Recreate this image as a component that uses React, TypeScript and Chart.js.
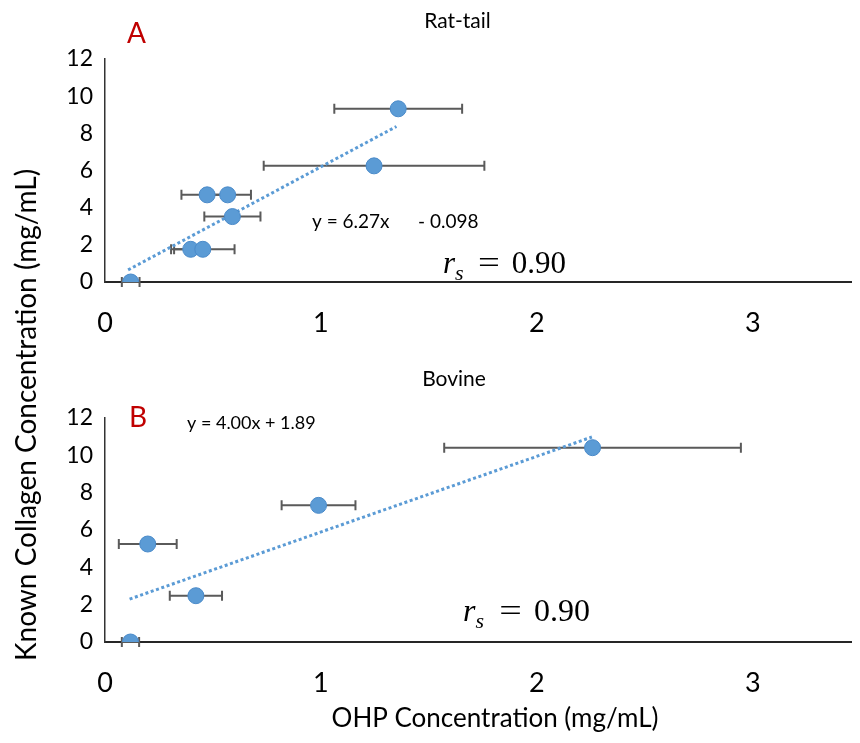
import React, { useEffect, useRef } from 'react';
import { Chart, registerables } from 'chart.js';

Chart.register(...registerables);

// ---- Data ----
const xTickValues = [0, 1, 2, 3];
const yTickValues = [0, 2, 4, 6, 8, 10, 12];

// Rat-tail (panel A)
const ratX = [0.119, 0.397, 0.453, 0.473, 0.568, 0.59, 1.246, 1.358];
const ratY = [0, 1.76, 1.76, 4.69, 4.69, 3.52, 6.25, 9.32];
const ratErr = [0.041, 0.077, 0.147, 0.119, 0.108, 0.13, 0.511, 0.296];
const ratTrendX = [0.107, 1.35];
const ratTrendY = [0.65, 8.37];

// Bovine (panel B)
const bovX = [0.118, 0.198, 0.421, 0.989, 2.258];
const bovY = [0, 5.25, 2.48, 7.32, 10.41];
const bovErr = [0.04, 0.134, 0.121, 0.171, 0.687];
const bovTrendX = [0.114, 2.255];
const bovTrendY = [2.3, 10.98];

const FONT = 'Lato, "Open Sans", sans-serif';
const SERIF = '"Liberation Serif", "DejaVu Serif", serif';
const W = 860;
const H = 743;

const errorBarPlugin = {
  id: 'errorBars',
  beforeDatasetsDraw(chart: any, _args: any, opts: any) {
    const ds = chart.data.datasets[0];
    const xs = chart.scales.x;
    const ys = chart.scales.y;
    const ctx = chart.ctx;
    const cap = 5;
    ctx.save();
    ctx.strokeStyle = '#5a5a5a';
    ctx.lineWidth = 2;
    (ds.data as any[]).forEach((p, i) => {
      const e = opts.err[i];
      const y = ys.getPixelForValue(p.y);
      const x1 = xs.getPixelForValue(p.x - e);
      const x2 = xs.getPixelForValue(p.x + e);
      ctx.beginPath();
      ctx.moveTo(x1, y);
      ctx.lineTo(x2, y);
      ctx.moveTo(x1, y - cap);
      ctx.lineTo(x1, y + cap);
      ctx.moveTo(x2, y - cap);
      ctx.lineTo(x2, y + cap);
      ctx.stroke();
    });
    ctx.restore();
  },
};

function drawRs(ctx: CanvasRenderingContext2D, left: number, base: number, size: number) {
  ctx.save();
  ctx.fillStyle = '#000';
  ctx.textAlign = 'left';
  ctx.textBaseline = 'alphabetic';
  ctx.font = `italic ${size}px ${SERIF}`;
  ctx.fillText('r', left, base);
  const x = left + ctx.measureText('r').width;
  ctx.font = `italic ${Math.round(size * 0.7)}px ${SERIF}`;
  ctx.fillText('s', x, base + size * 0.22);
  ctx.font = `${size}px ${SERIF}`;
  ctx.save();
  ctx.translate(left + size * 1.13, base);
  ctx.scale(1.25, 1);
  ctx.fillText('=', 0, 0);
  ctx.restore();
  ctx.fillText('0.90', left + size * 2.22, base);
  ctx.restore();
}

const textPlugin = {
  id: 'texts',
  afterDraw(chart: any, _args: any, opts: any) {
    const ctx: CanvasRenderingContext2D = chart.ctx;
    const items = opts.items || [];
    for (let i = 0; i < items.length; i++) {
      const t = items[i];
      ctx.save();
      ctx.font = t.font;
      ctx.fillStyle = t.color || '#000';
      ctx.textAlign = t.align || 'left';
      ctx.textBaseline = 'alphabetic';
      if (t.rotate) {
        ctx.translate(t.x, t.y);
        ctx.rotate(t.rotate);
        ctx.fillText(t.text, 0, 0);
      } else {
        ctx.fillText(t.text, t.x, t.y);
      }
      ctx.restore();
    }
    if (opts.rs) drawRs(ctx, opts.rs.x, opts.rs.y, opts.rs.size);
  },
};

function makeConfig(
  xs: number[],
  ys: number[],
  err: number[],
  tx: number[],
  ty: number[],
  areaTop: number,
  areaBottom: number,
  items: any[],
  rs: any
): any {
  return {
    type: 'scatter',
    data: {
      datasets: [
        {
          data: xs.map((x, i) => ({ x, y: ys[i] })),
          backgroundColor: '#5B9BD5',
          borderColor: '#4A8AC9',
          borderWidth: 1,
          pointRadius: 8,
          pointHoverRadius: 8,
          order: 0,
        },
        {
          data: tx.map((x, i) => ({ x, y: ty[i] })),
          showLine: true,
          borderColor: '#5B9BD5',
          borderWidth: 3,
          borderDash: [3, 2.6],
          pointRadius: 0,
          pointHoverRadius: 0,
          fill: false,
          order: 1,
        },
      ],
    },
    options: {
      animation: false,
      responsive: false,
      events: [],
      layout: { padding: { top: areaTop, left: 0, right: 0, bottom: 0 } },
      plugins: {
        legend: { display: false },
        tooltip: { enabled: false },
        errorBars: { err },
        texts: { items, rs },
      },
      scales: {
        x: {
          type: 'linear',
          min: 0,
          max: 3.455,
          grid: { display: false, drawTicks: false },
          border: { display: true, color: '#262626', width: 2 },
          afterBuildTicks: (s: any) => {
            s.ticks = xTickValues.map((v) => ({ value: v }));
          },
          ticks: {
            font: { family: FONT, size: 27 },
            color: '#000',
            padding: 25,
            maxRotation: 0,
            autoSkip: false,
          },
          afterFit: (s: any) => {
            s.height = H - areaBottom;
          },
        },
        y: {
          type: 'linear',
          min: 0,
          max: 12,
          grid: { display: false, drawTicks: false },
          border: { display: true, color: '#333333', width: 1.5 },
          afterBuildTicks: (s: any) => {
            s.ticks = yTickValues.map((v) => ({ value: v }));
          },
          ticks: {
            font: { family: FONT, size: 23 },
            color: '#000',
            padding: 12,
          },
          afterFit: (s: any) => {
            s.width = 105;
          },
        },
      },
    },
    plugins: [errorBarPlugin, textPlugin],
  };
}

export default function App() {
  const topRef = useRef<HTMLCanvasElement>(null);
  const botRef = useRef<HTMLCanvasElement>(null);

  useEffect(() => {
    const topCfg = makeConfig(
      ratX,
      ratY,
      ratErr,
      ratTrendX,
      ratTrendY,
      59,
      282,
      [
        { text: 'A', x: 127, y: 43, font: `28px ${FONT}`, color: '#C00000' },
        { text: 'Rat-tail', x: 457.5, y: 28, font: `21px ${FONT}`, align: 'center' },
        { text: 'y = 6.27x', x: 312, y: 228, font: `19px ${FONT}` },
        { text: '- 0.098', x: 418, y: 228, font: `19px ${FONT}` },
      ],
      { x: 443, y: 273, size: 31 }
    );
    const botCfg = makeConfig(
      bovX,
      bovY,
      bovErr,
      bovTrendX,
      bovTrendY,
      418,
      642,
      [
        { text: 'B', x: 129, y: 427, font: `28px ${FONT}`, color: '#C00000' },
        { text: 'Bovine', x: 454, y: 386, font: `21px ${FONT}`, align: 'center' },
        { text: 'y = 4.00x + 1.89', x: 187, y: 429, font: `18px ${FONT}` },
        {
          text: 'Known Collagen Concentration (mg/mL)',
          x: 36,
          y: 661,
          font: `28px ${FONT}`,
          rotate: -Math.PI / 2,
        },
        { text: 'OHP Concentration (mg/mL)', x: 495, y: 727, font: `26px ${FONT}`, align: 'center' },
      ],
      { x: 463, y: 621, size: 32 }
    );
    const c1 = new Chart(topRef.current as HTMLCanvasElement, topCfg);
    const c2 = new Chart(botRef.current as HTMLCanvasElement, botCfg);
    return () => {
      c1.destroy();
      c2.destroy();
    };
  }, []);

  return (
    <div style={{ position: 'fixed', left: 0, top: 0, width: W, height: H, background: '#fff', overflow: 'hidden' }}>
      <canvas ref={botRef} width={W} height={H} style={{ position: 'absolute', left: 0, top: 0 }} />
      <canvas ref={topRef} width={W} height={H} style={{ position: 'absolute', left: 0, top: 0 }} />
    </div>
  );
}
